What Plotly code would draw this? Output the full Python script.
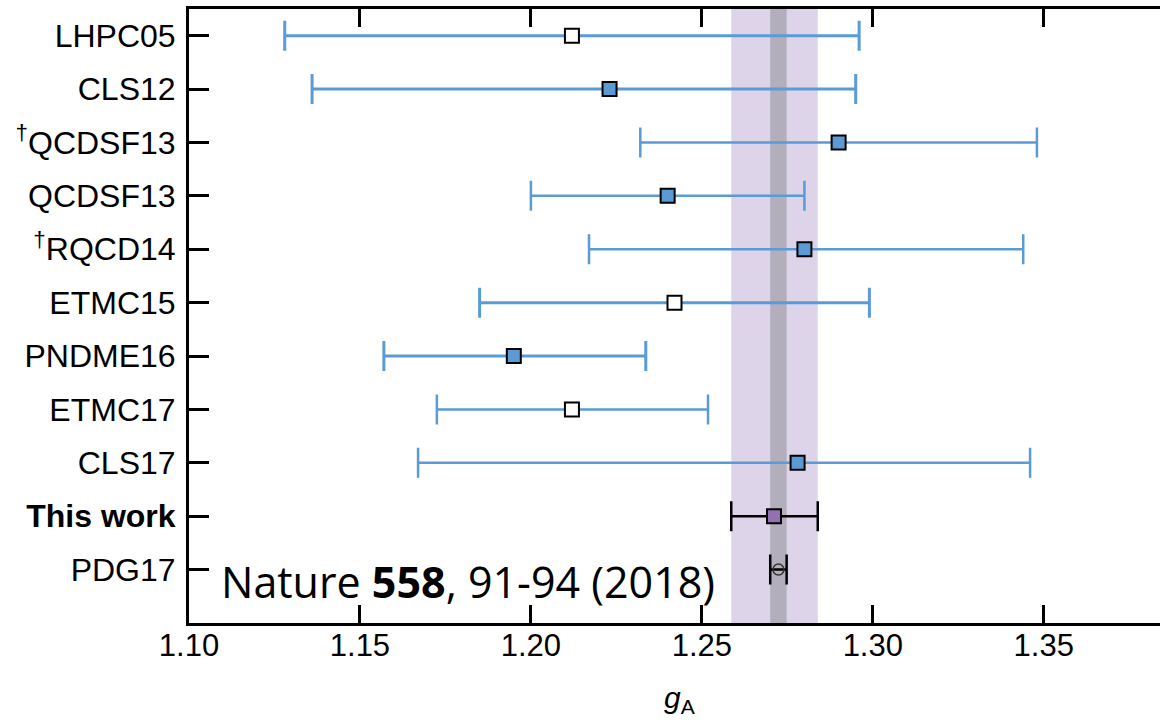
import plotly.graph_objects as go

labels = ["LHPC05", "CLS12", "<sup>†</sup>QCDSF13", "QCDSF13", "<sup>†</sup>RQCD14",
          "ETMC15", "PNDME16", "ETMC17", "CLS17", "<b>This work</b>", "PDG17"]
central = [1.212, 1.223, 1.290, 1.240, 1.280, 1.242, 1.195, 1.212, 1.278, 1.2711, 1.2724]
low = [1.128, 1.136, 1.232, 1.200, 1.217, 1.185, 1.157, 1.1725, 1.167, 1.2586, 1.2700]
high = [1.296, 1.295, 1.348, 1.280, 1.344, 1.299, 1.2336, 1.2518, 1.346, 1.2839, 1.2748]
style = ["open", "filled", "filled", "filled", "filled", "open", "filled", "open", "filled", "this", "pdg"]
bar_width = [3, 3, 2.5, 2.5, 2.5, 3, 3, 2.5, 2.5, 2.5, 2.5]
x_ticks = [1.10, 1.15, 1.20, 1.25, 1.30, 1.35]
x_tick_text = ["1.10", "1.15", "1.20", "1.25", "1.30", "1.35"]

BLUE = "#5b9bd5"
PURPLE = "#9171b2"

n = len(labels)
ypos = [n - 1 - i for i in range(n)]

fig = go.Figure()
for i in range(n):
    s = style[i]
    if s == "open":
        marker = dict(symbol="square", size=14, color="white", line=dict(color="black", width=2))
        ecol = BLUE
    elif s == "filled":
        marker = dict(symbol="square", size=14, color=BLUE, line=dict(color="black", width=2))
        ecol = BLUE
    elif s == "this":
        marker = dict(symbol="square", size=14, color=PURPLE, line=dict(color="black", width=2))
        ecol = "black"
    else:
        marker = dict(symbol="circle-open", size=11, color="#333333", line=dict(color="#333333", width=1.5))
        ecol = "black"
    fig.add_trace(go.Scatter(
        x=[central[i]], y=[ypos[i]], mode="markers", marker=marker,
        error_x=dict(type="data", symmetric=False,
                     array=[high[i] - central[i]], arrayminus=[central[i] - low[i]],
                     color=ecol, thickness=bar_width[i], width=15),
        showlegend=False, hoverinfo="skip"))

ti = labels.index("<b>This work</b>")
pi = labels.index("PDG17")
fig.add_shape(type="rect", xref="x", yref="paper", x0=low[ti], x1=high[ti], y0=0, y1=1,
              fillcolor="#ddd4ea", line=dict(width=0), layer="below")
fig.add_shape(type="rect", xref="x", yref="paper", x0=low[pi], x1=high[pi], y0=0, y1=1,
              fillcolor="#b2aebb", line=dict(width=0), layer="below")

fig.add_annotation(text="Nature <b>558</b>, 91-94 (2018)", xref="paper", yref="paper",
                   x=0.031, y=0.068, xanchor="left", yanchor="middle", showarrow=False,
                   font=dict(family="Open Sans", size=43, color="black"))
fig.add_annotation(text="<i>g</i><sub>A</sub>", xref="paper", yref="paper",
                   x=0.505, y=-0.125, xanchor="center", yanchor="middle", showarrow=False,
                   font=dict(family="Liberation Sans", size=30, color="black"))

fig.update_layout(
    width=1160, height=724,
    margin=dict(l=189, r=0, t=9, b=101),
    plot_bgcolor="white", paper_bgcolor="white",
    font=dict(family="Liberation Sans", color="black"),
    xaxis=dict(range=[1.10, 1.384], tickvals=x_ticks, ticktext=x_tick_text,
               ticks="inside", ticklen=18, tickwidth=2.5, tickcolor="black",
               showline=True, linewidth=3, linecolor="black", mirror="ticks",
               showgrid=False, zeroline=False, tickfont=dict(size=31),
               ticklabelstandoff=-7),
    yaxis=dict(range=[-1, 10.5], tickvals=ypos, ticktext=labels,
               ticks="inside", ticklen=20, tickwidth=3, tickcolor="black",
               showline=True, linewidth=3, linecolor="black", mirror=False,
               showgrid=False, zeroline=False, tickfont=dict(size=32),
               ticklabelstandoff=4),
)

fig.write_html("out.html")
